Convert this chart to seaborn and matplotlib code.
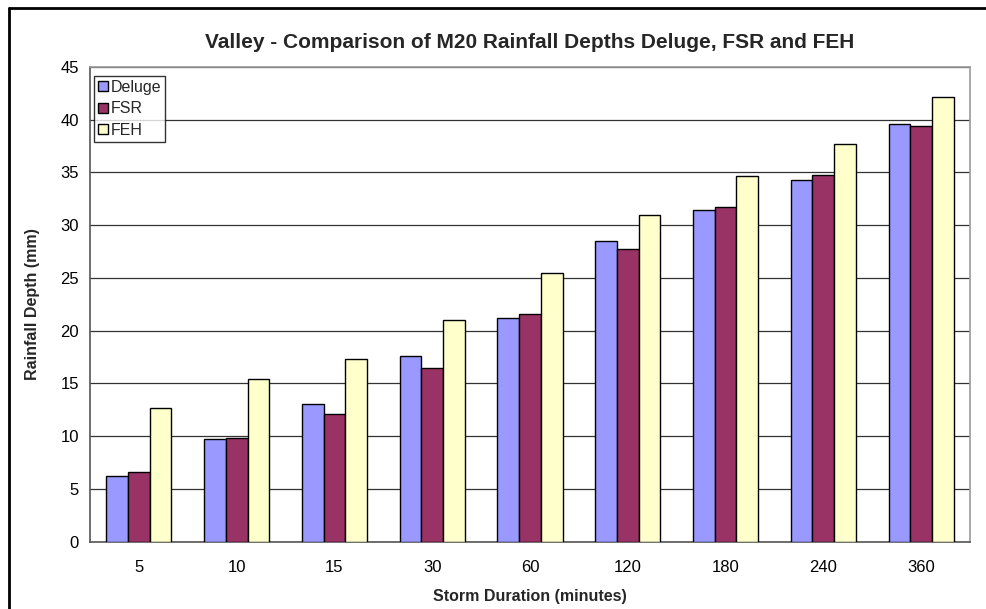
import matplotlib
matplotlib.use("Agg")
import matplotlib.pyplot as plt
import seaborn as sns
import pandas as pd
from matplotlib.lines import Line2D

durations = ["5", "10", "15", "30", "60", "120", "180", "240", "360"]
deluge = [6.2, 9.7, 13.1, 17.6, 21.2, 28.5, 31.4, 34.3, 39.6]
fsr = [6.6, 9.8, 12.1, 16.5, 21.6, 27.7, 31.7, 34.8, 39.4]
feh = [12.7, 15.4, 17.3, 21.0, 25.5, 31.0, 34.7, 37.7, 42.2]
series = ["Deluge", "FSR", "FEH"]
colors = ["#9999FF", "#993366", "#FFFFCC"]

df = pd.DataFrame({
    "Duration": durations * 3,
    "Depth": deluge + fsr + feh,
    "Series": [s for s in series for _ in durations],
})

sns.set_theme(style="white")
plt.rcParams["font.family"] = ["Liberation Sans", "DejaVu Sans"]

W, H = 987, 609
fig = plt.figure(figsize=(W / 100, H / 100), dpi=100)
ax = fig.add_axes([90 / W, 1 - 541.7 / H, 880 / W, (541.7 - 67) / H])

sns.barplot(data=df, x="Duration", y="Depth", hue="Series", order=durations,
            hue_order=series, palette=colors, width=2 / 3, gap=0,
            edgecolor="black", linewidth=1.0, saturation=1, ax=ax, zorder=3)

ax.set_ylim(0, 45)
ax.set_xlim(-0.5, len(durations) - 0.5)
ax.set_yticks(range(0, 50, 5))
ax.yaxis.grid(True, color="#333333", linewidth=0.9, zorder=0)
ax.set_axisbelow(True)

ax.set_xticks(range(len(durations)))
ax.set_xticklabels(durations)
ax.set_xticks([i - 0.5 for i in range(len(durations) + 1)], minor=True)
ax.tick_params(axis="x", which="major", length=0, labelsize=12, pad=13, labelcolor="black")
ax.tick_params(axis="x", which="minor", length=5, width=1, color="#444444", direction="out")
ax.tick_params(axis="y", which="major", length=5, width=1, color="#444444", direction="out",
               labelsize=12, pad=3, labelcolor="black")

for side in ["left", "bottom"]:
    ax.spines[side].set_color("#555555")
    ax.spines[side].set_linewidth(1.2)
for side in ["top", "right"]:
    ax.spines[side].set_color("#9a9a9a")
    ax.spines[side].set_linewidth(1.2)

ax.set_xlabel("Storm Duration (minutes)", fontsize=11.5, fontweight="bold")
ax.set_ylabel("Rainfall Depth (mm)", fontsize=11.5, fontweight="bold")
ax.xaxis.set_label_coords(0.5, -(597 - 541.7) / (541.7 - 67), transform=ax.transAxes)
ax.xaxis.label.set_va("center")
ax.yaxis.set_label_coords(-(90 - 33) / 880, 0.5, transform=ax.transAxes)
ax.yaxis.label.set_va("center")

fig.text(530 / W, 1 - 43 / H, "Valley - Comparison of M20 Rainfall Depths Deluge, FSR and FEH",
         fontsize=15, fontweight="bold", ha="center", va="center")

leg = ax.legend(loc="upper left", bbox_to_anchor=(4 / 880, 1 - 9 / 474.7),
                frameon=True, fancybox=False, fontsize=11.5, handlelength=0.6,
                handleheight=0.6, handletextpad=0.2, borderpad=0.25,
                labelspacing=0.4, borderaxespad=0)
leg.get_frame().set_edgecolor("black")
leg.get_frame().set_linewidth(1.0)
for h in leg.legend_handles:
    h.set_edgecolor("black")
    h.set_linewidth(1.0)

fig.add_artist(Line2D([9 / W, 9 / W], [0, 1 - 8 / H], transform=fig.transFigure,
                      color="black", linewidth=2))
fig.add_artist(Line2D([9 / W, 1], [1 - 8 / H, 1 - 8 / H], transform=fig.transFigure,
                      color="black", linewidth=2))

fig.savefig("out.png", dpi=100)
